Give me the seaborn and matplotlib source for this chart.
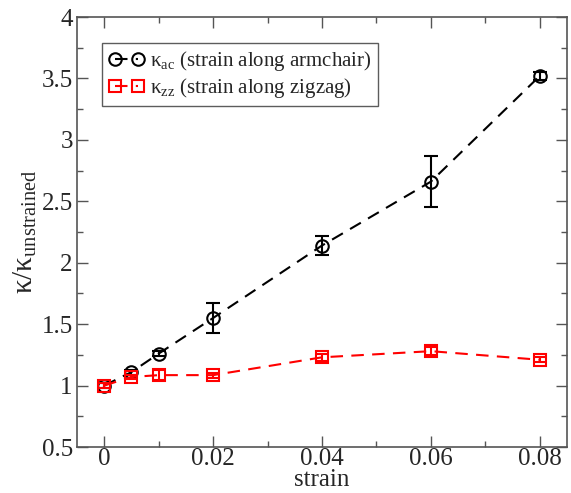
import seaborn as sns
import matplotlib.pyplot as plt
import pandas as pd

strain = [0.0, 0.005, 0.01, 0.02, 0.04, 0.06, 0.08]
kappa_ac = [1.0, 1.11, 1.26, 1.55, 2.14, 2.66, 3.52]
err_ac = [0.02, 0.02, 0.02, 0.12, 0.08, 0.21, 0.03]
kappa_zz = [1.0, 1.07, 1.085, 1.085, 1.23, 1.28, 1.21]
err_zz = [0.02, 0.02, 0.04, 0.02, 0.03, 0.03, 0.02]

df = pd.DataFrame({'strain': strain * 2,
                   'kappa': kappa_ac + kappa_zz,
                   'err': err_ac + err_zz,
                   'case': ['ac'] * 7 + ['zz'] * 7})

sns.set_theme(style="ticks")
plt.rcParams['font.family'] = ['Liberation Serif', 'DejaVu Serif']
plt.rcParams['mathtext.fontset'] = 'custom'
plt.rcParams['mathtext.rm'] = 'Liberation Serif'
plt.rcParams['mathtext.it'] = 'Liberation Serif'

fig = plt.figure(figsize=(5.71, 4.93), dpi=100)
ax = fig.add_axes([77 / 571, 46 / 493, 490 / 571, 430 / 493])

labels = {'ac': r'$\mathregular{\kappa_{ac}}$ (strain along armchair)',
          'zz': r'$\mathregular{\kappa_{zz}}$ (strain along zigzag)'}
colors = {'ac': 'black', 'zz': 'red'}
markers = {'ac': 'o', 'zz': 's'}

for case in ['ac', 'zz']:
    d = df[df['case'] == case]
    sns.lineplot(data=d, x='strain', y='kappa', ax=ax, color=colors[case],
                 linestyle=(0, (6, 4)), lw=1.5, label=labels[case],
                 marker=markers[case], markersize=9 if case == 'ac' else 8,
                 markerfacecolor='none', markeredgecolor=colors[case],
                 markeredgewidth=1.5)
    ax.errorbar(d['strain'], d['kappa'], yerr=d['err'], fmt='none',
                ecolor=colors[case], elinewidth=1.5, capsize=5, capthick=1.5)

ax.set_xlim(-0.005, 0.085)
ax.set_ylim(0.5, 4)
ax.set_xticks([0, 0.02, 0.04, 0.06, 0.08])
ax.set_xticklabels(['0', '0.02', '0.04', '0.06', '0.08'])
ax.set_xticks([0.01, 0.03, 0.05, 0.07], minor=True)
ax.set_yticks([0.5, 1, 1.5, 2, 2.5, 3, 3.5, 4])
ax.set_yticklabels(['0.5', '1', '1.5', '2', '2.5', '3', '3.5', '4'])
ax.set_yticks([0.75, 1.25, 1.75, 2.25, 2.75, 3.25, 3.75], minor=True)
ax.tick_params(which='both', direction='in', top=True, right=True,
               labelsize=18, color='#555555', pad=3)
ax.tick_params(axis='x', which='both', pad=1)
ax.tick_params(which='major', length=8, width=1)
ax.tick_params(which='minor', length=4, width=1)
for s in ax.spines.values():
    s.set_color('#555555')
    s.set_linewidth(1.2)

ax.set_xlabel('strain', fontsize=18, labelpad=-1)
ax.set_ylabel(r'$\mathregular{\kappa/\kappa_{unstrained}}$', fontsize=21, labelpad=2)

leg = ax.legend(loc='upper left', bbox_to_anchor=(0.052, 0.94), fontsize=15,
                frameon=True, fancybox=False, edgecolor='#333333',
                numpoints=2, handlelength=1.7, handletextpad=0.3,
                borderpad=0.3, labelspacing=0.15, borderaxespad=0)
leg.get_frame().set_linewidth(1.0)

fig.savefig('out.png', dpi=100)
